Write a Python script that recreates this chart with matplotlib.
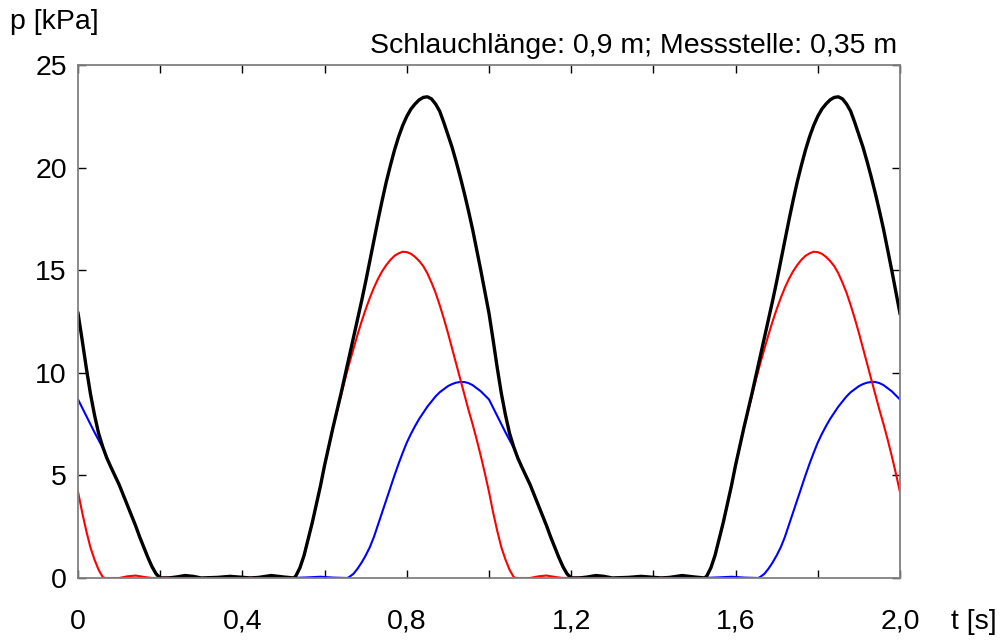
import matplotlib.pyplot as plt
from matplotlib.ticker import MultipleLocator, FuncFormatter
import numpy as np

plt.rcParams['font.family'] = ['Liberation Sans', 'DejaVu Sans']

t_black = [0.00, 0.01, 0.02, 0.03, 0.04, 0.05, 0.06, 0.07, 0.08, 0.09,
           0.10, 0.11, 0.12, 0.13, 0.14, 0.15, 0.16, 0.17, 0.18, 0.19,
           0.20, 0.22, 0.24, 0.26, 0.28, 0.30, 0.34, 0.37, 0.40, 0.42,
           0.44, 0.47, 0.50, 0.525, 0.53, 0.54, 0.55, 0.56, 0.57, 0.58,
           0.59, 0.60, 0.61, 0.62, 0.63, 0.64, 0.65, 0.66, 0.67, 0.68,
           0.69, 0.70, 0.71, 0.72, 0.73, 0.74, 0.75, 0.76, 0.77, 0.78,
           0.79, 0.80, 0.81, 0.82, 0.83, 0.84, 0.85, 0.86, 0.87, 0.88,
           0.89, 0.90, 0.91, 0.92, 0.93, 0.94, 0.95, 0.96, 0.97, 0.98,
           0.99]
p_black = [12.9, 11.6, 10.25, 9.0, 7.95, 7.05, 6.4, 5.85, 5.4, 4.98,
           4.55, 4.05, 3.55, 3.05, 2.55, 2.0, 1.5, 1.0, 0.55, 0.2,
           0.0, 0.0, 0.05, 0.12, 0.08, 0.0, 0.03, 0.08, 0.03, 0.0,
           0.03, 0.12, 0.05, 0.0, 0.1, 0.5, 1.1, 1.9, 2.7, 3.6,
           4.5, 5.5, 6.4, 7.3, 8.15, 9.0, 9.9, 10.8, 11.7, 12.6,
           13.5, 14.45, 15.45, 16.45, 17.45, 18.4, 19.3, 20.1, 20.85, 21.5,
           22.05, 22.5, 22.85, 23.1, 23.3, 23.42, 23.45, 23.35, 23.1, 22.75,
           22.2, 21.6, 21.0, 20.3, 19.55, 18.75, 17.9, 17.0, 16.0, 15.0,
           13.95]

t_red = [0.00, 0.01, 0.02, 0.03, 0.04, 0.05, 0.06, 0.065, 0.10, 0.12,
         0.14, 0.16, 0.18, 0.22, 0.24, 0.27, 0.30, 0.36, 0.40, 0.44,
         0.47, 0.50, 0.525, 0.53, 0.54, 0.55, 0.56, 0.57, 0.58, 0.59,
         0.60, 0.61, 0.62, 0.63, 0.64, 0.65, 0.66, 0.67, 0.68, 0.69,
         0.70, 0.71, 0.72, 0.73, 0.74, 0.75, 0.76, 0.77, 0.78, 0.79,
         0.80, 0.81, 0.82, 0.83, 0.84, 0.85, 0.86, 0.87, 0.88, 0.89,
         0.90, 0.91, 0.92, 0.93, 0.94, 0.95, 0.96, 0.97, 0.98, 0.99]
p_red = [4.2, 3.2, 2.3, 1.5, 0.9, 0.4, 0.05, 0.0, 0.0, 0.08,
         0.12, 0.05, 0.0, 0.02, 0.0, 0.06, 0.0, 0.05, 0.0, 0.03,
         0.1, 0.04, 0.0, 0.1, 0.5, 1.1, 1.9, 2.7, 3.6, 4.5,
         5.5, 6.4, 7.3, 8.1, 8.9, 9.7, 10.45, 11.15, 11.85, 12.5,
         13.1, 13.65, 14.15, 14.58, 14.95, 15.25, 15.5, 15.7, 15.82, 15.9,
         15.88, 15.8, 15.65, 15.45, 15.2, 14.85, 14.4, 13.9, 13.3, 12.65,
         11.95, 11.2, 10.45, 9.7, 8.95, 8.2, 7.5, 6.75, 5.95, 5.1]

t_blue = [0.00, 0.01, 0.02, 0.03, 0.04, 0.05, 0.06, 0.07, 0.08, 0.09,
          0.10, 0.11, 0.12, 0.13, 0.14, 0.15, 0.16, 0.17, 0.18, 0.19,
          0.20, 0.26, 0.30, 0.37, 0.42, 0.47, 0.52, 0.56, 0.59, 0.62,
          0.655, 0.66, 0.67, 0.68, 0.69, 0.70, 0.71, 0.72, 0.73, 0.74,
          0.75, 0.76, 0.77, 0.78, 0.79, 0.80, 0.81, 0.82, 0.83, 0.84,
          0.85, 0.86, 0.87, 0.88, 0.89, 0.90, 0.91, 0.92, 0.93, 0.94,
          0.95, 0.96, 0.97, 0.98, 0.99]
p_blue = [8.7, 8.3, 7.9, 7.5, 7.1, 6.72, 6.35, 5.85, 5.4, 4.98,
          4.55, 4.05, 3.55, 3.05, 2.55, 2.0, 1.5, 1.0, 0.55, 0.2,
          0.0, 0.04, 0.0, 0.04, 0.0, 0.05, 0.0, 0.03, 0.06, 0.02,
          0.0, 0.05, 0.2, 0.45, 0.75, 1.1, 1.5, 2.0, 2.6, 3.2,
          3.8, 4.4, 5.0, 5.57, 6.1, 6.6, 7.02, 7.4, 7.75, 8.05,
          8.35, 8.6, 8.85, 9.05, 9.2, 9.35, 9.45, 9.52, 9.55, 9.55,
          9.5, 9.4, 9.25, 9.1, 8.9]

t_end = 2.0
p_end_black, p_end_red, p_end_blue = 12.9, 4.2, 8.7

title = "Schlauchlänge: 0,9 m; Messstelle: 0,35 m"


def two_cycles(ts, ps, last):
    t = np.concatenate([ts, np.array(ts) + 1.0, [t_end]])
    p = np.concatenate([ps, ps, [last]])
    return t, p


fig = plt.figure(figsize=(10.07, 6.41), dpi=100)
ax = fig.add_axes([0.0775, 0.0983, 0.8162, 0.8003])

t, p = two_cycles(t_blue, p_blue, p_end_blue)
ax.plot(t, p, color='#0000ff', lw=1.5)
t, p = two_cycles(t_red, p_red, p_end_red)
ax.plot(t, p, color='#ff0000', lw=1.5)
t, p = two_cycles(t_black, p_black, p_end_black)
ax.plot(t, p, color='black', lw=2.4)

ax.set_xlim(0, 2.0)
ax.set_ylim(0, 25)

ax.xaxis.set_major_locator(MultipleLocator(0.4))
ax.xaxis.set_minor_locator(MultipleLocator(0.2))
ax.xaxis.set_major_formatter(FuncFormatter(
    lambda v, pos: '0' if abs(v) < 1e-9 else ('%.1f' % v).replace('.', ',')))
ax.yaxis.set_major_locator(MultipleLocator(5))

ax.tick_params(which='both', direction='in', length=6, width=1, color='black',
               top=True, right=True, labelsize=20.5)
ax.tick_params(axis='x', which='major', pad=22)
ax.tick_params(axis='y', which='major', pad=8)

for s in ax.spines.values():
    s.set_color('#808080')
    s.set_linewidth(1.3)

fig.text(897 / 1007, 1 - 53 / 641, title, ha='right', va='baseline', fontsize=20.5)
fig.text(10 / 1007, 1 - 22 / 641, "p [kPa]", ha='left', va='center', fontsize=20.5)
fig.text(951 / 1007, 1 - 622 / 641, "t [s]", ha='left', va='center', fontsize=20.5)

fig.savefig('out.png', dpi=100)
